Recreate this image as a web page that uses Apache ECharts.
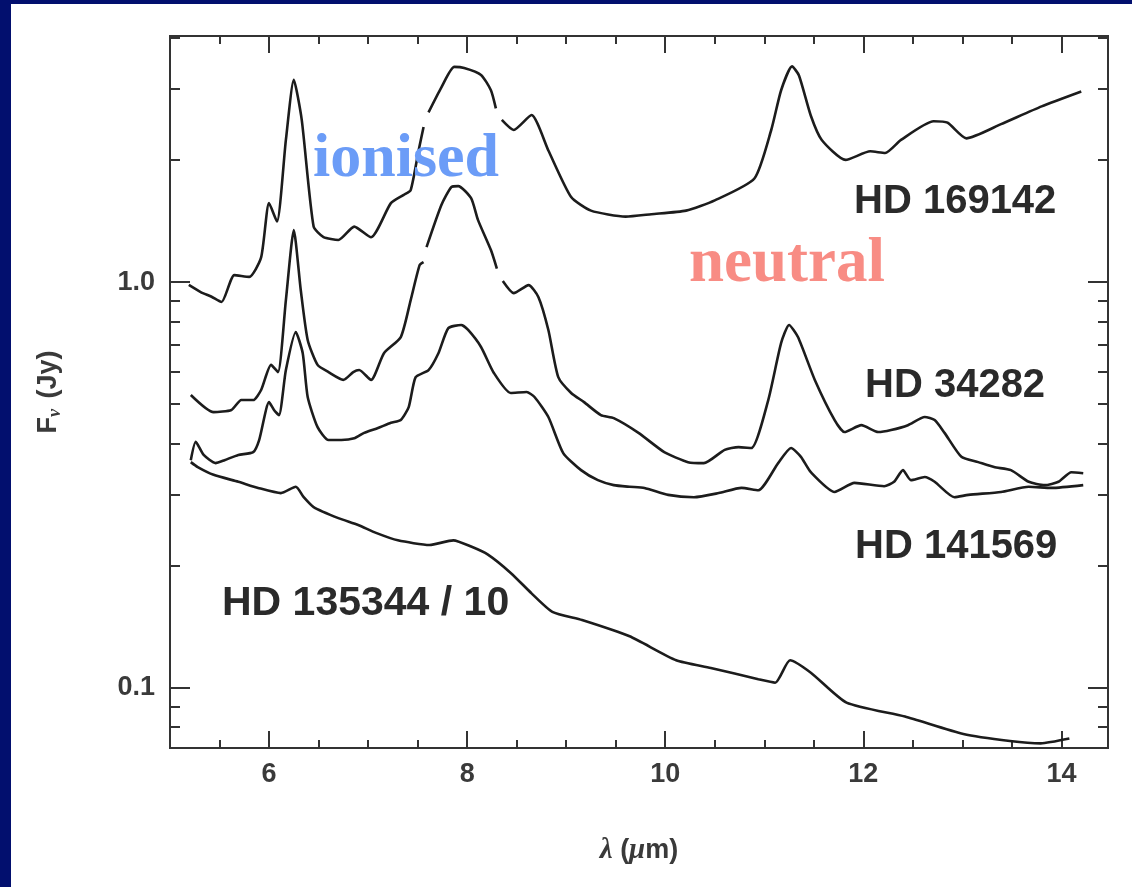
<!DOCTYPE html>
<html>
<head>
<meta charset="utf-8">
<title>PAH spectra</title>
<script src="https://cdn.jsdelivr.net/npm/echarts@6/dist/echarts.min.js"></script>
<style>
  html, body { margin: 0; padding: 0; width: 1132px; height: 887px; background: #020f6e; overflow: hidden; }
  #spec { position: absolute; left: 11px; top: 4px; width: 1121px; height: 883px; background: #ffffff; }
</style>
</head>
<body>
<div id="spec"></div>
<script>
// wavelength (um) / flux (Jy); null = gap in the trace
const hd169142_wl = [5.19, 5.31, 5.42, 5.52, 5.65, 5.80, 5.92, 6.00, 6.08, 6.17, 6.25, 6.33, 6.45, 6.55, 6.70, 6.86, 7.03, 7.23, 7.36, 7.43, 7.51, 7.56, 7.58, 7.61, 7.74, 7.87, 7.97, 8.14, 8.24, 8.29, 8.32, 8.35, 8.47, 8.65, 8.82, 9.05, 9.25, 9.60, 9.86, 10.21, 10.50, 10.90, 11.07, 11.17, 11.28, 11.35, 11.47, 11.58, 11.82, 12.07, 12.22, 12.38, 12.71, 12.85, 13.04, 13.39, 13.80, 14.20];
const hd169142_flux = [0.984, 0.945, 0.92, 0.893, 1.04, 1.03, 1.15, 1.565, 1.41, 2.24, 3.15, 2.51, 1.37, 1.29, 1.27, 1.37, 1.29, 1.565, 1.64, 1.685, 2.11, 2.41, null, 2.62, 3.02, 3.39, 3.37, 3.24, 2.97, 2.68, null, 2.51, 2.37, 2.58, 2.11, 1.62, 1.50, 1.45, 1.47, 1.50, 1.59, 1.80, 2.37, 2.97, 3.40, 3.23, 2.57, 2.24, 2.00, 2.10, 2.08, 2.24, 2.49, 2.47, 2.26, 2.45, 2.71, 2.95];

const hd34282_wl = [5.21, 5.44, 5.62, 5.72, 5.84, 5.92, 6.02, 6.09, 6.17, 6.25, 6.32, 6.39, 6.49, 6.60, 6.75, 6.85, 6.91, 7.03, 7.16, 7.33, 7.43, 7.52, 7.56, 7.575, 7.59, 7.74, 7.84, 7.91, 8.04, 8.11, 8.24, 8.30, 8.33, 8.36, 8.47, 8.62, 8.72, 8.82, 8.92, 9.05, 9.18, 9.35, 9.48, 9.73, 9.99, 10.23, 10.39, 10.60, 10.74, 10.87, 11.04, 11.17, 11.25, 11.34, 11.51, 11.71, 11.81, 11.98, 12.15, 12.28, 12.45, 12.62, 12.72, 12.82, 12.99, 13.16, 13.32, 13.49, 13.67, 13.83, 13.97, 14.10, 14.22];
const hd34282_flux = [0.527, 0.478, 0.484, 0.512, 0.512, 0.542, 0.625, 0.600, 0.903, 1.343, 0.956, 0.720, 0.625, 0.600, 0.574, 0.600, 0.607, 0.574, 0.668, 0.732, 0.903, 1.101, 1.120, null, 1.219, 1.548, 1.714, 1.724, 1.610, 1.421, 1.199, 1.08, null, 1.006, 0.939, 0.983, 0.918, 0.762, 0.583, 0.533, 0.506, 0.470, 0.462, 0.425, 0.381, 0.360, 0.358, 0.386, 0.392, 0.390, 0.512, 0.708, 0.784, 0.732, 0.574, 0.457, 0.427, 0.444, 0.427, 0.432, 0.444, 0.465, 0.457, 0.425, 0.371, 0.360, 0.350, 0.344, 0.322, 0.316, 0.322, 0.340, 0.338];

const hd141569_wl = [5.21, 5.26, 5.34, 5.46, 5.55, 5.69, 5.84, 5.90, 6.00, 6.05, 6.10, 6.17, 6.27, 6.34, 6.39, 6.49, 6.60, 6.73, 6.86, 6.96, 7.10, 7.23, 7.33, 7.41, 7.48, 7.61, 7.71, 7.81, 7.94, 8.01, 8.14, 8.27, 8.44, 8.60, 8.68, 8.82, 8.97, 9.15, 9.32, 9.48, 9.64, 9.79, 10.03, 10.29, 10.54, 10.77, 10.94, 11.14, 11.27, 11.37, 11.47, 11.71, 11.91, 12.21, 12.31, 12.40, 12.48, 12.62, 12.72, 12.92, 13.06, 13.39, 13.67, 13.90, 14.22];
const hd141569_flux = [0.364, 0.404, 0.375, 0.358, 0.364, 0.375, 0.381, 0.408, 0.506, 0.484, 0.470, 0.607, 0.753, 0.668, 0.521, 0.439, 0.408, 0.408, 0.412, 0.425, 0.437, 0.450, 0.457, 0.492, 0.583, 0.607, 0.668, 0.770, 0.784, 0.762, 0.692, 0.597, 0.533, 0.536, 0.521, 0.465, 0.379, 0.344, 0.325, 0.316, 0.313, 0.311, 0.299, 0.295, 0.302, 0.311, 0.307, 0.358, 0.390, 0.371, 0.340, 0.304, 0.320, 0.314, 0.322, 0.344, 0.325, 0.331, 0.322, 0.295, 0.299, 0.304, 0.313, 0.311, 0.316];

// HD 135344 already divided by 10 as plotted
const hd135344_wl = [5.21, 5.28, 5.44, 5.69, 5.89, 6.12, 6.27, 6.35, 6.45, 6.70, 6.90, 7.08, 7.30, 7.62, 7.86, 8.04, 8.21, 8.44, 8.65, 8.86, 9.16, 9.64, 10.11, 10.46, 10.94, 11.11, 11.26, 11.47, 11.83, 12.42, 13.01, 13.48, 13.79, 14.08];
const hd135344_flux = [0.360, 0.350, 0.335, 0.322, 0.311, 0.302, 0.313, 0.295, 0.279, 0.262, 0.252, 0.241, 0.231, 0.225, 0.231, 0.223, 0.213, 0.192, 0.171, 0.154, 0.147, 0.134, 0.117, 0.112, 0.105, 0.103, 0.117, 0.109, 0.092, 0.085, 0.077, 0.074, 0.073, 0.075];

// tick positions
const xMajorTicks = [6, 8, 10, 12, 14];
const xMinorTicks = [5.5, 6.5, 7, 7.5, 8.5, 9, 9.5, 10.5, 11, 11.5, 12.5, 13, 13.5];
const yMajorTicks = [0.1, 1];
const yMinorTicks = [0.08, 0.09, 0.2, 0.3, 0.4, 0.5, 0.6, 0.7, 0.8, 0.9, 2, 3, 4];

const axisColor = "#333";
const labelColor = "#3a3a3a";
const inkColor = "#1c1c1c";

function pairs(xs, ys) {
  return xs.map(function (x, i) { return [x, ys[i]]; });
}

// one axis per side and per tick size (long major, short minor)
function xAxisFor(pos, ticks, len, withLabels) {
  return {
    type: "value", position: pos, min: 5, max: 14.47,
    axisLine: { show: withLabels !== null, lineStyle: { color: axisColor, width: 2 } },
    axisTick: { show: true, inside: true, length: len, customValues: ticks, lineStyle: { color: axisColor, width: 2 } },
    axisLabel: withLabels ? {
      show: true, customValues: xMajorTicks, margin: 13,
      fontFamily: "Liberation Sans", fontWeight: "bold", fontSize: 27, color: labelColor
    } : { show: false },
    splitLine: { show: false }
  };
}
function yAxisFor(pos, ticks, len, withLabels) {
  return {
    type: "log", logBase: 10, position: pos, min: 0.0711, max: 4.04,
    axisLine: { show: withLabels !== null, lineStyle: { color: axisColor, width: 2 } },
    axisTick: { show: true, inside: true, length: len, customValues: ticks, lineStyle: { color: axisColor, width: 2 } },
    axisLabel: withLabels ? {
      show: true, customValues: yMajorTicks, margin: 15,
      fontFamily: "Liberation Sans", fontWeight: "bold", fontSize: 27, color: labelColor,
      formatter: function (v) { return Number(v).toFixed(1); }
    } : { show: false },
    splitLine: { show: false }
  };
}

const xBottom = xAxisFor("bottom", xMajorTicks, 17, true);
xBottom.name = "{it|λ} ({it|μ}m)";
xBottom.nameLocation = "middle";
xBottom.nameGap = 88;
xBottom.nameTextStyle = {
  fontFamily: "Liberation Sans", fontWeight: "bold", fontSize: 27, color: labelColor,
  rich: { it: { fontFamily: "Liberation Serif", fontStyle: "italic", fontWeight: "bold", fontSize: 29, color: labelColor } }
};
const yLeft = yAxisFor("left", yMajorTicks, 20, true);
yLeft.name = "F{sub|ν} (Jy)";
yLeft.nameLocation = "middle";
yLeft.nameGap = 106;
yLeft.nameTextStyle = {
  fontFamily: "Liberation Sans", fontWeight: "bold", fontSize: 27, color: labelColor,
  rich: { sub: { fontFamily: "Liberation Serif", fontStyle: "italic", fontWeight: "bold", fontSize: 18, color: labelColor, padding: [12, 3, 0, 0] } }
};

function spectrum(name, xs, ys) {
  return {
    name: name, type: "line", xAxisIndex: 0, yAxisIndex: 0,
    data: pairs(xs, ys), showSymbol: false, connectNulls: false, smooth: 0.2,
    lineStyle: { color: inkColor, width: 2.6 }, z: 3
  };
}

const chart = echarts.init(document.getElementById("spec"));
chart.setOption({
  animation: false,
  backgroundColor: "#ffffff",
  grid: { left: 159, top: 32, width: 938, height: 712 },
  xAxis: [
    xBottom,
    xAxisFor("bottom", xMinorTicks, 8, false),
    xAxisFor("top", xMajorTicks, 17, false),
    xAxisFor("top", xMinorTicks, 8, false)
  ],
  yAxis: [
    yLeft,
    yAxisFor("left", yMinorTicks, 10, false),
    yAxisFor("right", yMajorTicks, 20, false),
    yAxisFor("right", yMinorTicks, 10, false)
  ],
  series: [
    spectrum("HD 169142", hd169142_wl, hd169142_flux),
    spectrum("HD 34282", hd34282_wl, hd34282_flux),
    spectrum("HD 141569", hd141569_wl, hd141569_flux),
    spectrum("HD 135344 / 10", hd135344_wl, hd135344_flux)
  ],
  graphic: [
    { type: "text", left: 843, top: 178, z: 10, style: { text: "HD 169142", font: "bold 40px 'Liberation Sans'", fill: "#2a2a2a" } },
    { type: "text", left: 854, top: 362, z: 10, style: { text: "HD 34282", font: "bold 40px 'Liberation Sans'", fill: "#2a2a2a" } },
    { type: "text", left: 844, top: 523, z: 10, style: { text: "HD 141569", font: "bold 40px 'Liberation Sans'", fill: "#2a2a2a" } },
    { type: "text", left: 211, top: 579, z: 10, style: { text: "HD 135344 / 10", font: "bold 41px 'Liberation Sans'", fill: "#2a2a2a" } },
    { type: "text", left: 302, top: 125, z: 10, style: { text: "ionised", font: "bold 62px 'Liberation Serif'", fill: "#6b9cf7" } },
    { type: "text", left: 678, top: 229, z: 10, style: { text: "neutral", font: "bold 63px 'Liberation Serif'", fill: "#f88c84" } }
  ]
});
</script>
</body>
</html>
